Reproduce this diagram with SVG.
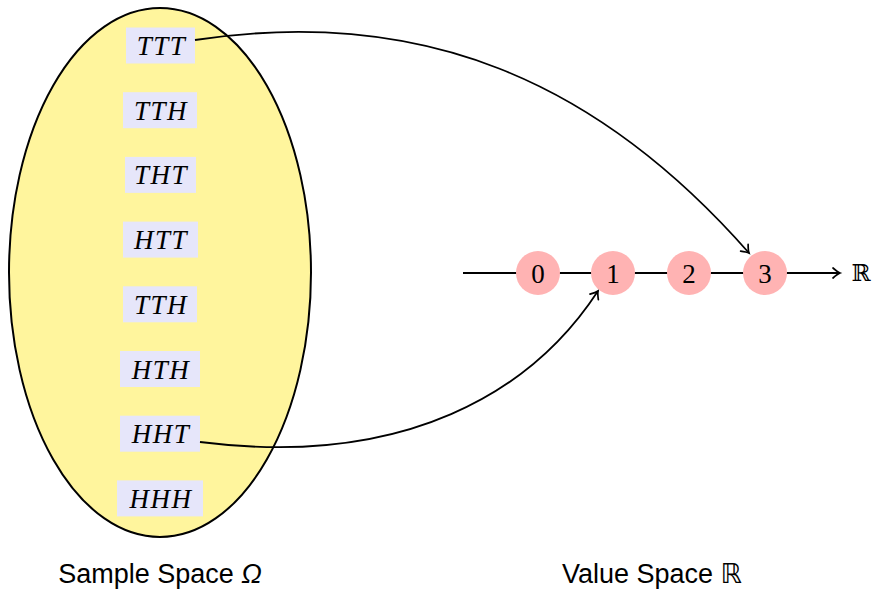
<svg xmlns="http://www.w3.org/2000/svg" width="873" height="589" viewBox="0 0 873 589">
<style>
.box{fill:#e6e6fa}
.lbl{font-family:"Liberation Serif",serif;font-style:italic;font-size:27px;letter-spacing:1.5px;text-anchor:middle;fill:#000}
.val{fill:#ffb3b3}
.num{font-family:"Liberation Serif",serif;font-size:27px;text-anchor:middle;fill:#000}
.edge{fill:none;stroke:#000;stroke-width:1.8}
.cap{font-family:"Liberation Sans",Arial,sans-serif;font-size:27px;text-anchor:middle;fill:#000}
</style>
<defs>
<marker id="arr" markerUnits="userSpaceOnUse" markerWidth="14" markerHeight="14" viewBox="-10 -7 12 14" refX="0" refY="0" orient="auto">
<path d="M-7,-5 Q-2.5,-1 0,0 Q-2.5,1 -7,5" fill="none" stroke="#000" stroke-width="1.7" stroke-linecap="round"/>
</marker>
</defs>
<g id="sample-space">
<ellipse cx="160" cy="272.5" rx="151" ry="264.5" fill="#fff59d" stroke="#000" stroke-width="2"/>
</g>
<g id="TTT"><rect class="box" x="126" y="27.5" width="69" height="36"/><text class="lbl" x="161.5" y="55">TTT</text></g>
<g id="TTH1"><rect class="box" x="123" y="92.2" width="74" height="36"/><text class="lbl" x="161" y="119.7">TTH</text></g>
<g id="THT"><rect class="box" x="125" y="156.9" width="71" height="36"/><text class="lbl" x="161" y="184.4">THT</text></g>
<g id="HTT"><rect class="box" x="123" y="221.6" width="75" height="36"/><text class="lbl" x="161" y="249.1">HTT</text></g>
<g id="TTH2"><rect class="box" x="123" y="286.3" width="74" height="36"/><text class="lbl" x="161" y="313.8">TTH</text></g>
<g id="HTH"><rect class="box" x="120" y="351" width="80" height="36"/><text class="lbl" x="161" y="378.5">HTH</text></g>
<g id="HHT"><rect class="box" x="120" y="415.7" width="80" height="36"/><text class="lbl" x="161" y="443.2">HHT</text></g>
<g id="HHH"><rect class="box" x="117" y="480.4" width="86" height="36"/><text class="lbl" x="161" y="507.9">HHH</text></g>
<g id="connectors">
<line class="edge" x1="463" y1="273" x2="840" y2="273" marker-end="url(#arr)"/>
<path class="edge" d="M195,40 C420,6 596,79 749,253" marker-end="url(#arr)"/>
<path class="edge" d="M200,442 C405,468 532,392 598,291" marker-end="url(#arr)"/>
</g>
<g id="v0"><circle class="val" cx="538" cy="273" r="22"/><text class="num" x="538" y="282.5">0</text></g>
<g id="v1"><circle class="val" cx="613" cy="273" r="22"/><text class="num" x="613" y="282.5">1</text></g>
<g id="v2"><circle class="val" cx="689" cy="273" r="22"/><text class="num" x="689" y="282.5">2</text></g>
<g id="v3"><circle class="val" cx="765" cy="273" r="22"/><text class="num" x="765" y="282.5">3</text></g>
<g id="R"><text x="861" y="281" font-family="DejaVu Serif,serif" font-size="23" text-anchor="middle">ℝ</text></g>
<g id="captions">
<text class="cap" x="160" y="583">Sample Space <tspan font-style="italic">Ω</tspan></text>
<text class="cap" x="652" y="583">Value Space <tspan font-family="DejaVu Sans,sans-serif">ℝ</tspan></text>
</g>
</svg>
